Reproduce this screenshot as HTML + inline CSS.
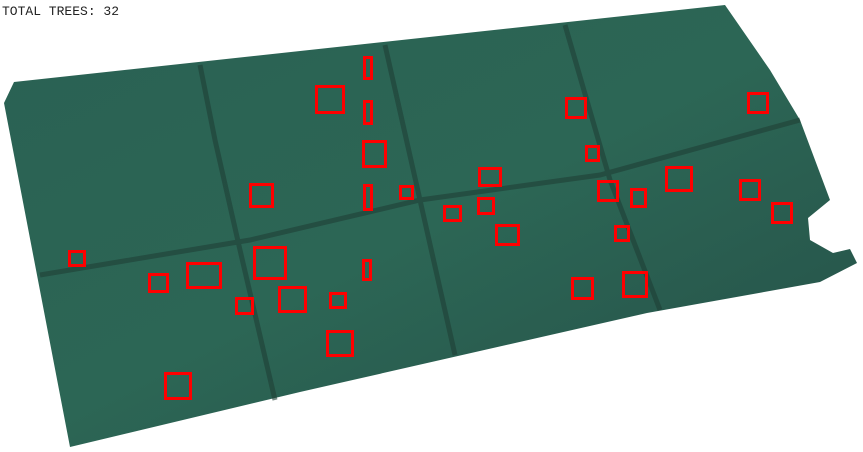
<!DOCTYPE html>
<html><head><meta charset="utf-8"><style>
html,body{margin:0;padding:0;background:#fff;width:863px;height:452px;overflow:hidden}
svg{display:block}
</style></head><body>
<svg width="863" height="452" viewBox="0 0 863 452">
<defs>
<linearGradient id="g" x1="0" y1="0" x2="1" y2="1">
<stop offset="0" stop-color="#2a6153"/><stop offset="0.5" stop-color="#2c6655"/><stop offset="1" stop-color="#254f47"/>
</linearGradient>
</defs>
<polygon fill="url(#g)"
 points="14,82 725,5 770,70 800,120 830,200 808,218 810,240 833,253 850,249 857,263 820,282 647,313 300,392 70,447 4,103"/>
<g stroke="#1f3f36" stroke-width="5" fill="none" opacity="0.6">
<path d="M200,65 L215,140 L240,250 L275,400"/>
<path d="M385,45 L420,200 L455,355"/>
<path d="M565,25 L610,180 L660,310"/>
<path d="M40,275 L250,240 L420,200 L600,175 L800,120"/>
</g>
<text x="2" y="15" font-family="Liberation Mono, monospace" font-size="13" fill="#222">TOTAL TREES: 32</text>
<g id="boxes"></g>
</svg>
<script>
const boxX=[363,315,363,565,747,362,585,478,665,249,363,399,597,630,739,443,477,771,495,614,68,253,186,148,362,278,329,235,571,622,326,164];
const boxY=[56,85,100,97,92,140,145,167,166,183,184,185,180,188,179,205,197,202,224,225,250,246,262,273,259,286,292,297,277,271,330,372];
const boxW=[10,30,10,22,22,25,15,24,28,25,10,15,22,17,22,19,18,22,25,16,18,34,36,21,10,29,18,19,23,26,28,28];
const boxH=[24,29,25,22,22,28,17,20,26,25,27,15,22,20,22,17,18,22,22,17,17,34,27,20,22,27,17,18,23,27,27,28];
const g=document.getElementById('boxes');
for(let i=0;i<boxX.length;i++){
 const x=boxX[i],y=boxY[i],w=boxW[i],h=boxH[i],t=3;
 const p=document.createElementNS('http://www.w3.org/2000/svg','path');
 p.setAttribute('d','M'+x+','+y+'h'+w+'v'+h+'h'+(-w)+'Z M'+(x+t)+','+(y+t)+'v'+(h-2*t)+'h'+(w-2*t)+'v'+(-(h-2*t))+'Z');
 p.setAttribute('fill','#ff0000');
 p.setAttribute('fill-rule','evenodd');
 
 
 g.appendChild(p);
}
</script>
</body></html>
